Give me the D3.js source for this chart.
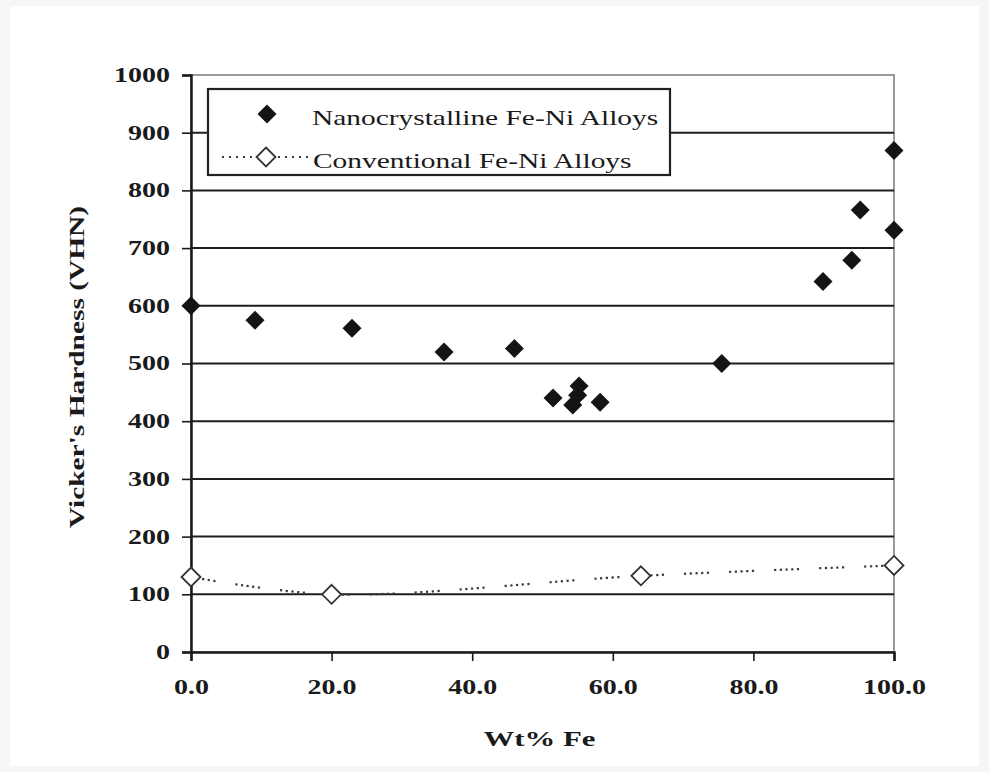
<!DOCTYPE html>
<html>
<head>
<meta charset="utf-8">
<script src="https://cdn.jsdelivr.net/npm/d3@7"></script>
<style>
  html, body { margin: 0; padding: 0; background: #f6f6f6; }
  svg { display: block; }
  text { font-family: "Liberation Serif", "Times New Roman", serif; fill: #1a1a1a; }
</style>
</head>
<body>
<svg id="chart" width="989" height="772"></svg>
<script>
// Hardness of Fe-Ni alloys versus iron content
const nanoFe = [0, 9.1, 22.9, 36.0, 46.0, 51.5, 54.3, 55.0, 55.2, 58.2, 75.5, 89.9, 94.0, 95.2, 100, 100];
const nanoHv = [600, 575, 561, 520, 526, 440, 428, 445, 461, 433, 500, 642, 679, 766, 731, 869];

const convFe = [0, 20, 64, 100];
const convHv = [130, 100, 132, 150];

const xTicks = [0, 20, 40, 60, 80, 100];
const yTicks = [0, 100, 200, 300, 400, 500, 600, 700, 800, 900, 1000];

const seriesNames = ["Nanocrystalline Fe-Ni Alloys", "Conventional Fe-Ni Alloys"];
const xTitle = "Wt% Fe";
const yTitle = "Vicker's Hardness (VHN)";

const svg = d3.select("#chart");
const W = 989, H = 772;
const plot = { left: 191, right: 894, top: 75, bottom: 652 };

const x = d3.scaleLinear().domain([0, 100]).range([plot.left, plot.right]);
const y = d3.scaleLinear().domain([0, 1000]).range([plot.bottom, plot.top]);

// wide serif lettering: stretch each string horizontally
const STRETCH = 1.4;
function widen(sel) {
  sel.each(function () {
    const w = this.getComputedTextLength();
    d3.select(this).attr("textLength", w * STRETCH).attr("lengthAdjust", "spacingAndGlyphs");
  });
  return sel;
}

// page
svg.append("rect").attr("x", 10).attr("y", 6).attr("width", W - 20).attr("height", H - 12).attr("fill", "#ffffff");

// plot frame
svg.append("rect")
  .attr("x", plot.left).attr("y", plot.top)
  .attr("width", plot.right - plot.left).attr("height", plot.bottom - plot.top)
  .attr("fill", "none").attr("stroke", "#9a9a9a").attr("stroke-width", 2);

// horizontal gridlines
svg.append("g").selectAll("line")
  .data(yTicks.filter(d => d > 0 && d < 1000))
  .join("line")
  .attr("x1", plot.left).attr("x2", plot.right)
  .attr("y1", d => y(d)).attr("y2", d => y(d))
  .attr("stroke", "#1e1e1e").attr("stroke-width", 2);

// y axis
const yAxis = svg.append("g")
  .attr("transform", `translate(${plot.left},0)`)
  .call(d3.axisLeft(y).tickValues(yTicks).tickSize(9).tickPadding(12).tickFormat(d3.format("d")));
yAxis.select(".domain").attr("stroke", "#1a1a1a").attr("stroke-width", 2.5);
yAxis.selectAll(".tick line").attr("stroke", "#1a1a1a").attr("stroke-width", 1.6);
yAxis.selectAll(".tick text")
  .attr("font-size", 20).attr("font-weight", "bold")
  .attr("font-family", "Liberation Serif, serif")
  .attr("fill", "#222").call(widen);

// x axis
const xAxis = svg.append("g")
  .attr("transform", `translate(0,${plot.bottom})`)
  .call(d3.axisBottom(x).tickValues(xTicks).tickSize(9).tickPadding(19).tickFormat(d3.format(".1f")));
xAxis.select(".domain").attr("stroke", "#1a1a1a").attr("stroke-width", 2.5);
xAxis.selectAll(".tick line").attr("stroke", "#1a1a1a").attr("stroke-width", 1.6);
xAxis.selectAll(".tick text")
  .attr("font-size", 20).attr("font-weight", "bold")
  .attr("font-family", "Liberation Serif, serif")
  .attr("fill", "#222").call(widen);

// axis titles
svg.append("text")
  .attr("x", (plot.left + plot.right) / 2 - 3).attr("y", 746)
  .attr("text-anchor", "middle").attr("font-size", 22).attr("font-weight", "bold")
  .text(xTitle).call(widen);

svg.append("text")
  .attr("transform", `translate(84,367) rotate(-90)`)
  .attr("text-anchor", "middle").attr("font-size", 21).attr("font-weight", "bold")
  .text(yTitle).call(widen);

// diamond marker (square turned 45 degrees)
const diamond = {
  draw(ctx, size) {
    const r = Math.sqrt(size / 2);
    ctx.moveTo(0, -r); ctx.lineTo(r, 0); ctx.lineTo(0, r); ctx.lineTo(-r, 0); ctx.closePath();
  }
};
const markerSize = 2 * 9.5 * 9.5;
const markerPath = d3.symbol().type(diamond).size(markerSize);

// conventional alloys: smoothed dotted curve
const conv = convFe.map((f, i) => ({ fe: f, hv: convHv[i] }));
const dotPattern = "2.2,3.5,2.2,3.5,2.2,3.5,2.2,3.5,2.2,20";
svg.append("path")
  .datum(conv)
  .attr("d", d3.line().x(d => x(d.fe)).y(d => y(d.hv)).curve(d3.curveCatmullRom.alpha(0.5)))
  .attr("fill", "none").attr("stroke", "#3a3a3a").attr("stroke-width", 2.2)
  .attr("stroke-dasharray", dotPattern);

svg.append("g").selectAll("path")
  .data(conv)
  .join("path")
  .attr("transform", d => `translate(${x(d.fe)},${y(d.hv)})`)
  .attr("d", markerPath)
  .attr("fill", "#ffffff").attr("stroke", "#333").attr("stroke-width", 1.8);

// nanocrystalline alloys
const nano = nanoFe.map((f, i) => ({ fe: f, hv: nanoHv[i] }));
svg.append("g").selectAll("path")
  .data(nano)
  .join("path")
  .attr("transform", d => `translate(${x(d.fe)},${y(d.hv)})`)
  .attr("d", markerPath)
  .attr("fill", "#141414");

// legend
const legend = svg.append("g");
legend.append("rect")
  .attr("x", 208).attr("y", 89).attr("width", 462).attr("height", 86)
  .attr("fill", "#ffffff").attr("stroke", "#222").attr("stroke-width", 2.2);

legend.append("path")
  .attr("transform", "translate(267,114)")
  .attr("d", markerPath).attr("fill", "#141414");
legend.append("text")
  .attr("x", 312).attr("y", 125).attr("font-size", 21)
  .text(seriesNames[0]).call(widen);

legend.append("line")
  .attr("x1", 222).attr("x2", 310).attr("y1", 157).attr("y2", 157)
  .attr("stroke", "#3a3a3a").attr("stroke-width", 2.2).attr("stroke-dasharray", "2,5");
legend.append("path")
  .attr("transform", "translate(266,157)")
  .attr("d", markerPath)
  .attr("fill", "#ffffff").attr("stroke", "#333").attr("stroke-width", 1.8);
legend.append("text")
  .attr("x", 313).attr("y", 168).attr("font-size", 21)
  .text(seriesNames[1]).call(widen);
</script>
</body>
</html>
